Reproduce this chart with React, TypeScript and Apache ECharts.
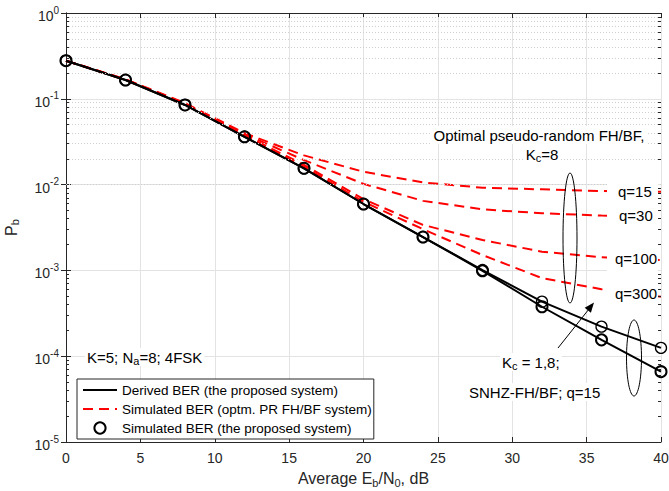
import React, { useEffect, useRef } from 'react';
import * as echarts from 'echarts';

const snrDb = [0, 4, 8, 12, 16, 20, 24, 28, 32, 36, 40];
const derivedKc1 = [0.278, 0.1656, 0.0847, 0.0361, 0.0155, 0.00594, 0.00245, 0.00101, 4.32e-4, 2.21e-4, 1.25e-4];
const derivedKc8 = [0.278, 0.1656, 0.0847, 0.0361, 0.0155, 0.00594, 0.00245, 0.00099, 3.77e-4, 1.55e-4, 6.6e-5];
const simKc1 = [0.278, 0.1656, 0.0847, 0.0361, 0.0155, 0.00594, 0.00245, 0.00101, 4.32e-4, 2.21e-4, 1.25e-4];
const simKc8 = [0.278, 0.1656, 0.0847, 0.0361, 0.0155, 0.00594, 0.00245, 0.00099, 3.77e-4, 1.55e-4, 6.6e-5];
const prQ15 = [0.278, 0.169, 0.0891, 0.0398, 0.0219, 0.0141, 0.0106, 0.0092, 0.0088, 0.0084, 0.00826];
const prQ30 = [0.278, 0.168, 0.0881, 0.0389, 0.0193, 0.0102, 0.00646, 0.00515, 0.00463, 0.00435, 0.00423];
const prQ100 = [0.278, 0.167, 0.0871, 0.0376, 0.017, 0.00676, 0.00339, 0.00226, 0.00165, 0.00142, 0.00132];
const prQ300 = [0.278, 0.166, 0.0861, 0.0367, 0.0162, 0.00631, 0.00302, 0.00151, 8.13e-4, 6.03e-4, 4.93e-4];
const minorDecades = [-5, -4, -3, -2, -1];
const minorMantissas = [2, 3, 4, 5, 6, 7, 8, 9];

const NAME_DER = 'Derived BER (the proposed system)';
const NAME_PR = 'Simulated BER (optm. PR FH/BF system)';
const NAME_SIM = 'Simulated BER (the proposed system)';
const FONT = 'Liberation Sans, Arial, Helvetica, sans-serif';
const AXIS_COLOR = '#262626';

const pairs = (ys: number[]) => snrDb.map((x, i) => [x, ys[i]]);

export default function App() {
  const ref = useRef<HTMLDivElement>(null);
  useEffect(() => {
    document.body.style.margin = '0';
    if (!ref.current) return;
    const chart = echarts.init(ref.current, undefined, { renderer: 'svg' });

    const minorValues: number[] = [];
    minorDecades.forEach((d) => minorMantissas.forEach((m) => minorValues.push(m * Math.pow(10, d))));
    const minorLines = minorValues.map((v) => ({ yAxis: v }));
    const minorTicks: any[] = [];
    minorValues.forEach((v) => {
      minorTicks.push([{ coord: [0, v] }, { coord: [0.2, v] }]);
      minorTicks.push([{ coord: [39.8, v] }, { coord: [40, v] }]);
    });

    const redLine = (name: string, ys: number[]) => ({
      type: 'line', name, data: pairs(ys), symbol: 'none', z: 3,
      lineStyle: { color: '#ff0000', width: 2, type: [10, 6] }, itemStyle: { color: '#ff0000' },
    });
    const blackLine = (ys: number[]) => ({
      type: 'line', name: NAME_DER, data: pairs(ys), symbol: 'none', z: 4,
      lineStyle: { color: '#000', width: 2 }, itemStyle: { color: '#000' },
    });
    const circles = (ys: number[], bw: number) => ({
      type: 'line', name: NAME_SIM, data: pairs(ys), symbol: 'circle', symbolSize: 11, showSymbol: true, z: 5,
      lineStyle: { width: 0, opacity: 0 },
      itemStyle: { color: 'rgba(0,0,0,0)', borderColor: '#000', borderWidth: bw },
    });

    const txt = (x: number, y: number, text: string, align: string, extra: any = {}) => ({
      type: 'text', x, y, z: 100,
      style: {
        text, fontSize: 15, fontFamily: FONT, fill: '#000', align, verticalAlign: 'middle',
        lineHeight: 18, backgroundColor: '#fff', padding: [0, 2],
        rich: { s: { fontSize: 11, fontFamily: FONT, fill: '#000', verticalAlign: 'bottom', lineHeight: 4 } },
        ...extra,
      },
    });

    chart.setOption({
      animation: false,
      grid: { left: 66, right: 8, top: 13, bottom: 49, containLabel: false, outerBoundsMode: 'none' },
      legend: {
        orient: 'vertical', left: 77, top: 379, itemWidth: 34, itemHeight: 14, itemGap: 5,
        padding: [4, 2, 4, 5], backgroundColor: '#fff', borderColor: AXIS_COLOR, borderWidth: 1, borderRadius: 0,
        textStyle: { fontSize: 13.5, fontFamily: FONT, color: '#000' },
        data: [
          { name: NAME_DER, itemStyle: { opacity: 0 } },
          { name: NAME_PR, itemStyle: { opacity: 0 } },
          { name: NAME_SIM },
        ],
        z: 50,
      },
      xAxis: [
        {
          type: 'value', min: 0, max: 40, interval: 5, position: 'bottom',
          name: '{t|Average E}{s|b}{t|/N}{s|0}{t|, dB}', nameLocation: 'middle', nameGap: 26,
          nameTextStyle: {
            rich: {
              t: { fontSize: 16, fontFamily: FONT, color: AXIS_COLOR, lineHeight: 20 },
              s: { fontSize: 11, fontFamily: FONT, color: AXIS_COLOR, lineHeight: 4, verticalAlign: 'bottom' },
            },
          },
          axisLine: { show: true, lineStyle: { color: AXIS_COLOR, width: 1 } },
          axisTick: { show: true, inside: true, length: 5, lineStyle: { color: AXIS_COLOR } },
          axisLabel: { fontSize: 14, fontFamily: FONT, color: AXIS_COLOR, margin: 9 },
          splitLine: { show: true, lineStyle: { color: '#e3e3e3', width: 1 } },
        },
        {
          type: 'value', min: 0, max: 40, interval: 5, position: 'top',
          axisLine: { show: true, lineStyle: { color: AXIS_COLOR, width: 1 } },
          axisTick: { show: true, inside: true, length: 5, lineStyle: { color: AXIS_COLOR } },
          axisLabel: { show: false }, splitLine: { show: false },
        },
      ],
      yAxis: [
        {
          type: 'log', logBase: 10, min: 1e-5, max: 1, splitNumber: 5, position: 'left',
          name: '{t|P}{s|b}', nameLocation: 'middle', nameGap: 46,
          nameTextStyle: {
            rich: {
              t: { fontSize: 16, fontFamily: FONT, color: AXIS_COLOR, lineHeight: 18 },
              s: { fontSize: 11, fontFamily: FONT, color: AXIS_COLOR, lineHeight: 4, verticalAlign: 'bottom' },
            },
          },
          axisLine: { show: true, lineStyle: { color: AXIS_COLOR, width: 1 } },
          axisTick: { show: true, inside: true, length: 5, lineStyle: { color: AXIS_COLOR } },
          axisLabel: {
            margin: 7, padding: [6, 0, 0, 0],
            formatter: (v: number) => `{b|10}{e|${Math.round(Math.log10(v))}}`,
            rich: {
              b: { fontSize: 14, fontFamily: FONT, color: AXIS_COLOR, lineHeight: 22 },
              e: { fontSize: 10, fontFamily: FONT, color: AXIS_COLOR, lineHeight: 8, verticalAlign: 'top' },
            },
          },
          splitLine: { show: true, lineStyle: { color: '#e3e3e3', width: 1 } },
        },
        {
          type: 'log', logBase: 10, min: 1e-5, max: 1, splitNumber: 5, position: 'right',
          axisLine: { show: true, lineStyle: { color: AXIS_COLOR, width: 1 } },
          axisTick: { show: true, inside: true, length: 5, lineStyle: { color: AXIS_COLOR } },
          axisLabel: { show: false }, splitLine: { show: false },
        },
      ],
      series: [
        {
          type: 'line', name: 'minor-grid', data: [], z: 1, silent: true,
          markLine: {
            silent: true, symbol: ['none', 'none'], label: { show: false },
            lineStyle: { color: '#cfcfcf', width: 1, type: [1, 2] },
            data: minorLines,
          },
        },
        {
          type: 'line', name: 'minor-ticks', data: [], z: 6, silent: true,
          markLine: {
            silent: true, symbol: ['none', 'none'], label: { show: false },
            lineStyle: { color: AXIS_COLOR, width: 1, type: 'solid' },
            data: minorTicks,
          },
        },
        redLine(NAME_PR, prQ15),
        redLine(NAME_PR, prQ30),
        redLine(NAME_PR, prQ100),
        redLine(NAME_PR, prQ300),
        blackLine(derivedKc1),
        blackLine(derivedKc8),
        circles(simKc1, 1.3),
        circles(simKc8, 2),
      ],
      graphic: [
        txt(539, 135, 'Optimal pseudo-random FH/BF,', 'center'),
        txt(542, 154, 'K{s|c}=8', 'center'),
        { type: 'rect', z: 99, shape: { x: 607, y: 179, width: 51, height: 128 }, style: { fill: '#fff' } },
        txt(616, 191, 'q=15', 'left', { backgroundColor: 'transparent' }),
        txt(617, 215, 'q=30', 'left', { backgroundColor: 'transparent' }),
        txt(613, 258, 'q=100', 'left', { backgroundColor: 'transparent' }),
        txt(613, 293, 'q=300', 'left', { backgroundColor: 'transparent' }),
        txt(85, 357, 'K=5; N{s|a}=8; 4FSK', 'left'),
        txt(500, 362, 'K{s|c} = 1,8;', 'left'),
        txt(467, 392, 'SNHZ-FH/BF; q=15', 'left'),
        { type: 'ellipse', z: 101, shape: { cx: 570, cy: 238, rx: 7, ry: 65 }, style: { fill: 'none', stroke: '#000', lineWidth: 1 } },
        { type: 'ellipse', z: 101, shape: { cx: 634, cy: 358, rx: 7.5, ry: 38 }, style: { fill: 'none', stroke: '#000', lineWidth: 1 } },
        { type: 'line', z: 101, shape: { x1: 558, y1: 348, x2: 589, y2: 309 }, style: { stroke: '#000', lineWidth: 1 } },
        { type: 'polygon', z: 101, shape: { points: [[594, 302.5], [590.9, 312.8], [584.7, 307.8]] }, style: { fill: '#000' } },
      ],
    });
    return () => chart.dispose();
  }, []);
  return <div ref={ref} style={{ width: 669, height: 491 }} />;
}
